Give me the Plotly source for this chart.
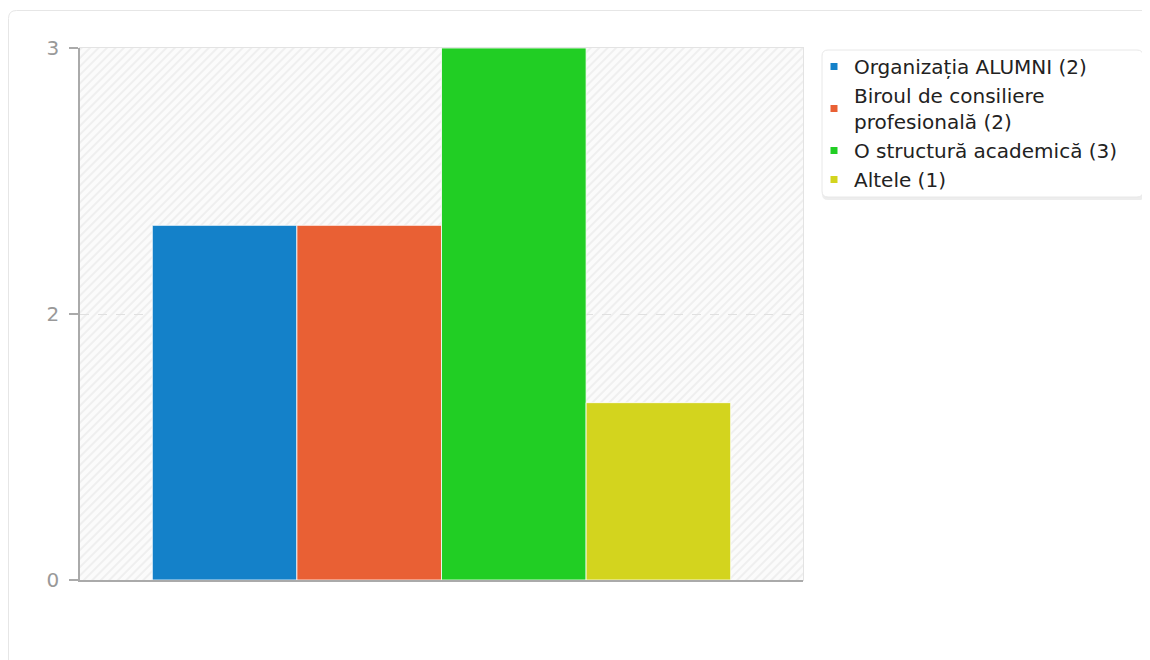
import base64
import plotly.graph_objects as go

# ---- data ----
categories = ["Organizația ALUMNI (2)",
              "Biroul de consiliere<br>profesională (2)",
              "O structură academică (3)",
              "Altele (1)"]
values = [2, 2, 3, 1]
colors = ["#1481c9", "#e96034", "#21ce24", "#d3d41e"]
tick_vals = [0, 1.5, 3]
tick_text = ["0", "2", "3"]

W, H = 1142, 652
ML, MR, MT, MB = 72, 347, 40, 80
PW, PH = W - ML - MR, H - MT - MB

fig = go.Figure()
for name, v, c in zip(categories, values, colors):
    fig.add_trace(go.Bar(x=[""], y=[v], name=name,
                         marker=dict(color=c, line=dict(color="rgba(255,255,255,0.8)", width=1)),
                         showlegend=False, hoverinfo="skip"))
for name, c in zip(categories, colors):
    fig.add_trace(go.Scatter(x=[None], y=[None], mode="markers", name=name,
                             marker=dict(symbol="square", size=7, color=c)))

# hatch background
svg = f'''<svg xmlns="http://www.w3.org/2000/svg" width="{PW}" height="{PH}">
<defs><pattern id="p" patternUnits="userSpaceOnUse" width="6" height="6" patternTransform="rotate(45)">
<rect width="6" height="6" fill="#fbfbfb"/><rect width="2" height="6" fill="#efefef"/></pattern></defs>
<rect width="{PW}" height="{PH}" fill="url(#p)"/></svg>'''
src = "data:image/svg+xml;base64," + base64.b64encode(svg.encode()).decode()
fig.add_layout_image(dict(source=src, xref="x domain", yref="y domain", x=0, y=1, sizex=1, sizey=1,
                          xanchor="left", yanchor="top", sizing="stretch", layer="below"))


def px_x(p):
    return (p - ML) / PW


def px_y(p):
    return (H - MB - p) / PH


def rounded_rect(x0, y0, x1, y1, rad):
    l, r, t, b = px_x(x0), px_x(x1), px_y(y0), px_y(y1)
    rx, ry = rad / PW, rad / PH
    return (f"M{l + rx},{t} L{r - rx},{t} Q{r},{t} {r},{t - ry} L{r},{b + ry} Q{r},{b} {r - rx},{b} "
            f"L{l + rx},{b} Q{l},{b} {l},{b + ry} L{l},{t - ry} Q{l},{t} {l + rx},{t} Z")


# outer card
fig.add_shape(type="path", path=rounded_rect(0.5, 2.5, 1170, 700, 8), xref="paper", yref="paper",
              line=dict(color="#e6e6e6", width=1), fillcolor="rgba(0,0,0,0)", layer="below")
# legend box with soft shadow
fig.add_shape(type="path", path=rounded_rect(814, 44, 1137, 192, 6), xref="paper", yref="paper",
              line=dict(width=0), fillcolor="rgba(0,0,0,0.07)", layer="below")
fig.add_shape(type="path", path=rounded_rect(814, 42, 1135, 189, 6), xref="paper", yref="paper",
              line=dict(color="#e8e8e8", width=1), fillcolor="white", layer="below")
# light top / right frame
fig.add_shape(type="rect", xref="x domain", yref="y domain", x0=0, x1=1, y0=0, y1=1,
              line=dict(color="#e3e3e3", width=2), layer="below")

fig.update_layout(
    width=W, height=H,
    margin=dict(l=ML, r=MR, t=MT, b=MB),
    paper_bgcolor="white", plot_bgcolor="white",
    barmode="group", bargap=0.2, bargroupgap=0,
    font=dict(family="DejaVu Sans", size=20, color="#222"),
    showlegend=True,
    legend=dict(x=px_x(814), y=px_y(39), xanchor="left", yanchor="top",
                bgcolor="rgba(0,0,0,0)", borderwidth=0, indentation=-8,
                font=dict(family="DejaVu Sans", size=20, color="#222"),
                itemclick=False, itemdoubleclick=False),
    xaxis=dict(showticklabels=False, ticks="", showgrid=False, zeroline=False,
               showline=True, linecolor="#aaaaaa", linewidth=1.5, range=[-0.5, 0.5]),
    yaxis=dict(range=[0, 3], tickvals=tick_vals, ticktext=tick_text, ticks="outside", ticklen=9,
               tickcolor="#aaaaaa", tickwidth=1.5, showline=True, linecolor="#aaaaaa", linewidth=1.5,
               showgrid=True, gridcolor="#e0e0e0", griddash="dash", gridwidth=1, zeroline=False,
               ticklabelstandoff=6,
               tickfont=dict(family="DejaVu Sans", size=20, color="#999999")),
)
fig.write_html("out.html")
